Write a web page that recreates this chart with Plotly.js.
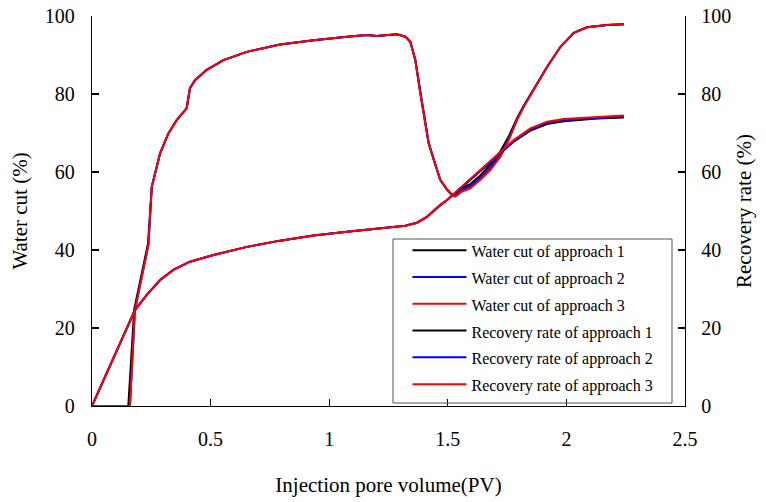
<!DOCTYPE html>
<html>
<head>
<meta charset="utf-8">
<script src="https://cdn.plot.ly/plotly-3.0.1.min.js"></script>
<style>html,body{margin:0;padding:0;background:#fff;}#chart{width:766px;height:502px;}</style>
</head>
<body>
<div id="chart"></div>
<script>
// Water cut (%) vs injection pore volume (PV)
const wcX3 = [0, 0.16, 0.181, 0.238, 0.252, 0.266, 0.287, 0.322, 0.357, 0.399, 0.413, 0.435, 0.484, 0.554, 0.653, 0.793, 0.934, 1.075, 1.159, 1.2, 1.286, 1.321, 1.342, 1.363, 1.384, 1.419, 1.44, 1.468, 1.497, 1.518, 1.532, 1.56, 1.595, 1.637, 1.679, 1.722, 1.757, 1.792, 1.82, 1.862, 1.919, 1.975, 2.031, 2.087, 2.172, 2.242];
const wcY3 = [0, 0, 24.6, 41.3, 56.2, 59.7, 64.8, 69.9, 73.3, 76.3, 81.5, 83.6, 86.2, 88.7, 90.8, 92.7, 93.8, 94.7, 95.1, 94.9, 95.3, 94.7, 93.4, 88.7, 80.2, 67.4, 63.1, 58.0, 55.5, 54.1, 53.7, 55.0, 55.8, 58.0, 60.5, 63.9, 68.2, 73.3, 76.7, 81.0, 87.0, 92.1, 95.7, 97.1, 97.7, 97.9];
const wcX1 = [0, 0.153, 0.178, 0.236, 0.252, 0.266, 0.287, 0.322, 0.357, 0.399, 0.413, 0.435, 0.484, 0.554, 0.653, 0.793, 0.934, 1.075, 1.159, 1.2, 1.286, 1.321, 1.342, 1.363, 1.384, 1.419, 1.44, 1.468, 1.497, 1.518, 1.532, 1.56, 1.595, 1.637, 1.679, 1.722, 1.757, 1.792, 1.82, 1.862, 1.919, 1.975, 2.031, 2.087, 2.172, 2.242];
const wcY1 = [0, 0, 24.8, 41.6, 56.2, 59.7, 64.8, 69.9, 73.3, 76.3, 81.5, 83.6, 86.2, 88.7, 90.8, 92.7, 93.8, 94.7, 95.1, 94.9, 95.3, 94.7, 93.4, 88.7, 80.2, 67.4, 63.1, 58.0, 55.5, 54.2, 54.2, 55.9, 56.9, 59.1, 61.9, 65.3, 69.2, 73.8, 77.0, 81.2, 87.0, 92.1, 95.7, 97.1, 97.7, 97.9];
const wcX2 = wcX3;
const wcY2 = [0, 0, 24.6, 41.4, 56.2, 59.7, 64.8, 69.9, 73.3, 76.3, 81.5, 83.6, 86.2, 88.7, 90.8, 92.7, 93.8, 94.7, 95.1, 94.9, 95.3, 94.7, 93.4, 88.8, 80.4, 67.6, 63.2, 58.0, 55.5, 54.1, 53.9, 55.4, 56.3, 58.5, 61.1, 64.5, 68.6, 73.5, 76.8, 81.1, 87.0, 92.1, 95.7, 97.1, 97.7, 97.9];

// Recovery rate (%) vs injection pore volume (PV)
const rrX = [0, 0.181, 0.231, 0.287, 0.343, 0.413, 0.512, 0.653, 0.793, 0.934, 1.075, 1.215, 1.321, 1.37, 1.412, 1.468, 1.497, 1.567, 1.637, 1.707, 1.778, 1.848, 1.919, 1.989, 2.059, 2.129, 2.242];
const rrY3 = [0, 24.6, 28.5, 32.3, 34.9, 37.0, 38.7, 40.8, 42.4, 43.7, 44.7, 45.6, 46.2, 47.0, 48.5, 51.5, 52.8, 56.7, 60.5, 64.4, 68.2, 71.2, 72.9, 73.6, 73.9, 74.2, 74.5];
const rrY2 = [0, 24.6, 28.5, 32.3, 34.9, 37.0, 38.7, 40.8, 42.4, 43.7, 44.7, 45.6, 46.2, 47.0, 48.5, 51.5, 52.8, 56.6, 60.4, 64.3, 68.0, 70.9, 72.6, 73.3, 73.6, 73.9, 74.2];
const rrY1 = [0, 24.6, 28.5, 32.3, 34.9, 37.0, 38.7, 40.8, 42.4, 43.7, 44.7, 45.6, 46.2, 47.0, 48.5, 51.5, 52.8, 56.5, 60.3, 64.1, 67.8, 70.6, 72.3, 73.0, 73.4, 73.7, 74.0];

const names = ["Water cut of approach 1", "Water cut of approach 2", "Water cut of approach 3",
               "Recovery rate of approach 1", "Recovery rate of approach 2", "Recovery rate of approach 3"];
const colors = ["#000000", "#0000ff", "#ff0000"];
const xTicks = [0, 0.5, 1, 1.5, 2, 2.5];
const xTickText = ["0", "0.5", "1", "1.5", "2", "2.5"];
const yTicks = [0, 20, 40, 60, 80, 100];

const FONT = "Liberation Serif, Times New Roman, serif";
function lbl(s){ return '<span style="font-size:16px">' + s + '</span>'; }

const wcXs = [wcX1, wcX2, wcX3], wcYs = [wcY1, wcY2, wcY3];
const rrYs = [rrY1, rrY2, rrY3];
const traces = [];
for (let i = 0; i < 3; i++) {
  traces.push({x: wcXs[i], y: wcYs[i], type: 'scatter', mode: 'lines', name: lbl(names[i]),
    line: {color: colors[i], width: 2}, yaxis: 'y'});
}
for (let i = 0; i < 3; i++) {
  traces.push({x: rrX, y: rrYs[i], type: 'scatter', mode: 'lines', name: lbl(names[i + 3]),
    line: {color: colors[i], width: 2}, yaxis: 'y2'});
}

const axisCommon = {
  showgrid: false, zeroline: false, showline: true, linecolor: '#000', linewidth: 1.3,
  ticks: 'inside', ticklen: 7, tickcolor: '#000', tickwidth: 1.2,
  tickfont: {family: FONT, size: 20, color: '#000'}
};
const titleFont = {family: FONT, size: 21, color: '#000'};

const layout = {
  width: 766, height: 502,
  margin: {l: 92, r: 81, t: 16, b: 96},
  paper_bgcolor: '#fff', plot_bgcolor: '#fff',
  font: {family: FONT, color: '#000'},
  showlegend: true,
  legend: {
    x: 0.532, xanchor: 'left', y: 0.4467, yanchor: 'top',
    bgcolor: 'rgba(0,0,0,0)', borderwidth: 0,
    font: {family: FONT, size: 18.3, color: '#000'},
    itemwidth: 54, tracegroupgap: 0
  },
  shapes: [{
    type: 'rect', xref: 'paper', yref: 'paper',
    x0: 0.5076, x1: 0.9781, y0: 0.0077, y1: 0.4282,
    line: {color: '#555', width: 1}, fillcolor: 'rgba(0,0,0,0)', layer: 'above'
  }],
  xaxis: Object.assign({}, axisCommon, {
    range: [0, 2.5], tickmode: 'array', tickvals: xTicks, ticktext: xTickText,
    ticklabelstandoff: 15,
    title: {text: 'Injection pore volume(PV)', font: titleFont, standoff: 28}
  }),
  yaxis: Object.assign({}, axisCommon, {
    range: [0, 100], tickmode: 'array', tickvals: yTicks,
    ticklabelstandoff: 12,
    title: {text: 'Water cut (%)', font: titleFont, standoff: 11}
  }),
  yaxis2: Object.assign({}, axisCommon, {
    range: [0, 100], tickmode: 'array', tickvals: yTicks,
    overlaying: 'y', side: 'right', anchor: 'x',
    ticklabelstandoff: 11,
    title: {text: 'Recovery rate (%)', font: titleFont, standoff: 6}
  })
};

Plotly.newPlot('chart', traces, layout, {displayModeBar: false, staticPlot: true});
</script>
</body>
</html>
